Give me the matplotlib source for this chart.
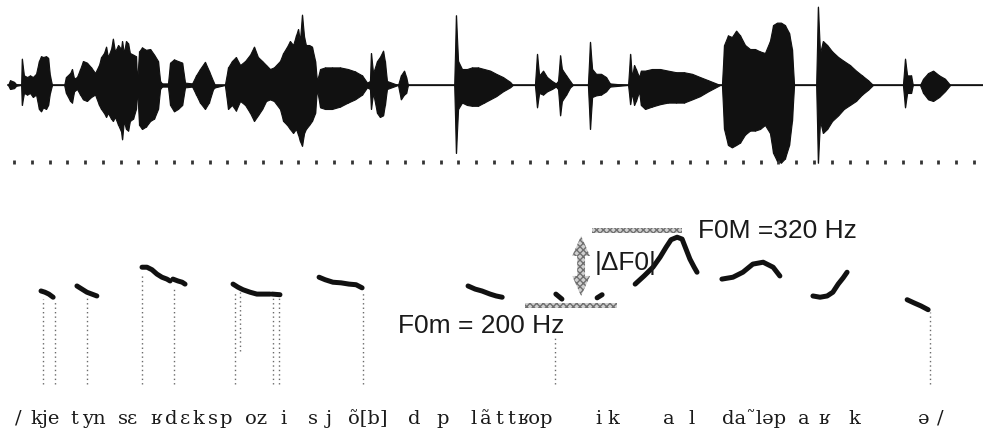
import numpy as np
import matplotlib.pyplot as plt
from matplotlib.patches import Rectangle, Polygon
from matplotlib.transforms import blended_transform_factory

# -------------------------------------------------
# waveform envelope: time (ms), upper / lower amplitude (normalised)
# -------------------------------------------------
wave_t = [-17, -11, 0, 6, 20, 22, 28, 37, 45, 53, 62, 70, 76, 82, 90, 96, 101, 107,
          141, 146, 158, 163, 169, 177, 186, 194, 205, 217, 228, 239,
          245, 253, 259, 264, 273, 278, 284, 293, 301, 304, 309, 315, 321, 326, 335, 343, 346,
          352, 360, 371, 383, 394, 405, 411, 416,
          433, 439, 450, 461, 473, 481,
          501, 512, 523, 537, 548, 560, 565,
          593, 602, 613, 624, 636, 650, 664, 675, 686, 698, 709, 720, 731, 748,
          757, 768, 776, 785, 793, 799, 804, 810, 816, 821, 830, 838, 847, 852,
          861, 875, 894, 917, 939, 959, 979, 993,
          1001, 1004, 1010, 1021, 1029, 1038, 1043, 1049,
          1080, 1088, 1097, 1103, 1108,
          1238, 1243, 1249, 1260, 1274, 1288, 1305, 1322, 1339, 1356, 1375, 1395, 1403,
          1465, 1471, 1477, 1488, 1499, 1513, 1524, 1530, 1536, 1541, 1553, 1564, 1572,
          1614, 1620, 1626, 1637, 1651, 1665, 1676,
          1727, 1733, 1738, 1744, 1749, 1758, 1763, 1775, 1794, 1817, 1839, 1862, 1884,
          1907, 1929, 1952, 1969, 1986,
          1991, 1997, 2008, 2019, 2031, 2042, 2056, 2070, 2084, 2098, 2112, 2126, 2135,
          2146, 2157, 2168, 2180, 2188, 2194,
          2256, 2261, 2267, 2275, 2287, 2301, 2318, 2334, 2351, 2368, 2385, 2402, 2416,
          2500, 2506, 2512, 2523, 2528,
          2548, 2557, 2571, 2585, 2602, 2618, 2633, 2725]
wave_hi = [0, 0.06, 0.04, 0.01, 0, 0.33, 0.12, 0.10, 0.12, 0.10, 0.14, 0.30, 0.36, 0.35, 0.36, 0.34, 0.12, 0,
           0, 0.10, 0.15, 0.20, 0.08, 0.10, 0.20, 0.30, 0.28, 0.22, 0.15, 0.25,
           0.35, 0.40, 0.48, 0.35, 0.45, 0.58, 0.42, 0.50, 0.45, 0.55, 0.40, 0.55, 0.52, 0.40, 0.38, 0.36, 0.05,
           0.42, 0.47, 0.44, 0.45, 0.38, 0.30, 0.05, 0.02,
           0.02, 0.28, 0.32, 0.30, 0.28, 0.03,
           0.02, 0.12, 0.20, 0.29, 0.18, 0.05, 0,
           0, 0.22, 0.30, 0.35, 0.25, 0.30, 0.38, 0.48, 0.35, 0.30, 0.25, 0.20, 0.22, 0.30,
           0.40, 0.48, 0.55, 0.50, 0.62, 0.70, 0.55, 0.88, 0.60, 0.50, 0.50, 0.48, 0.30, 0.05,
           0.20, 0.22, 0.22, 0.22, 0.20, 0.17, 0.12, 0.03,
           0.05, 0.40, 0.15, 0.30, 0.35, 0.43, 0.30, 0.05,
           0, 0.12, 0.18, 0.10, 0,
           0, 0.87, 0.30, 0.20, 0.20, 0.22, 0.22, 0.20, 0.18, 0.14, 0.10, 0.04, 0,
           0, 0.39, 0.12, 0.18, 0.10, 0.05, 0.02, 0.05, 0.37, 0.20, 0.12, 0.05, 0,
           0, 0.54, 0.20, 0.14, 0.14, 0.10, 0.02,
           0, 0.39, 0.10, 0.25, 0.20, 0.10, 0.18, 0.18, 0.20, 0.20, 0.18, 0.16, 0.16,
           0.14, 0.10, 0.06, 0.03, 0,
           0, 0.50, 0.62, 0.60, 0.68, 0.62, 0.50, 0.45, 0.45, 0.42, 0.40, 0.55, 0.75,
           0.78, 0.78, 0.75, 0.65, 0.45, 0,
           0, 0.98, 0.40, 0.55, 0.50, 0.42, 0.35, 0.30, 0.25, 0.18, 0.12, 0.06, 0,
           0, 0.33, 0.12, 0.12, 0,
           0, 0.08, 0.15, 0.18, 0.12, 0.08, 0, 0]
wave_lo = [0, -0.05, -0.04, -0.01, 0, -0.25, -0.10, -0.12, -0.10, -0.15, -0.12, -0.30, -0.33, -0.28, -0.30, -0.25, -0.10, 0,
           0, -0.10, -0.20, -0.22, -0.08, -0.05, -0.12, -0.18, -0.20, -0.15, -0.12, -0.25,
           -0.30, -0.35, -0.40, -0.35, -0.42, -0.45, -0.40, -0.50, -0.58, -0.68, -0.45, -0.55, -0.57, -0.45, -0.42, -0.30, -0.05,
           -0.50, -0.55, -0.52, -0.45, -0.42, -0.30, -0.05, -0.02,
           -0.02, -0.25, -0.33, -0.30, -0.25, -0.03,
           -0.02, -0.12, -0.22, -0.30, -0.22, -0.05, -0.03,
           0, -0.30, -0.25, -0.32, -0.20, -0.25, -0.35, -0.45, -0.38, -0.30, -0.20, -0.18, -0.20, -0.30,
           -0.45, -0.50, -0.55, -0.60, -0.55, -0.62, -0.70, -0.76, -0.60, -0.55, -0.50, -0.45, -0.35, -0.05,
           -0.28, -0.30, -0.30, -0.27, -0.22, -0.18, -0.12, -0.03,
           -0.05, -0.30, -0.10, -0.35, -0.40, -0.38, -0.25, -0.05,
           0, -0.18, -0.12, -0.10, 0,
           0, -0.85, -0.30, -0.22, -0.25, -0.26, -0.26, -0.22, -0.18, -0.14, -0.08, -0.03, 0,
           0, -0.28, -0.10, -0.12, -0.08, -0.05, -0.02, -0.05, -0.38, -0.20, -0.12, -0.03, 0,
           0, -0.55, -0.15, -0.13, -0.12, -0.08, -0.02,
           0, -0.24, -0.10, -0.25, -0.20, -0.08, -0.25, -0.30, -0.27, -0.24, -0.22, -0.22, -0.22,
           -0.18, -0.14, -0.08, -0.04, 0,
           0, -0.55, -0.75, -0.78, -0.75, -0.72, -0.62, -0.57, -0.57, -0.55, -0.50, -0.60, -0.85,
           -0.95, -0.97, -0.92, -0.75, -0.45, 0,
           0, -0.97, -0.45, -0.60, -0.55, -0.45, -0.38, -0.30, -0.25, -0.20, -0.12, -0.06, 0,
           0, -0.28, -0.10, -0.10, 0,
           0, -0.10, -0.18, -0.20, -0.15, -0.08, 0, 0]

tick_step = 50      # ms between time marks
t_end = 2700

# -------------------------------------------------
# F0 contours: (time ms, F0 Hz)
# -------------------------------------------------
f0_segments = [
    ([76, 87, 98, 110], [224, 222, 219, 214]),
    ([177, 191, 205, 219, 233], [232, 227, 222, 219, 216]),
    ([360, 374, 388, 402, 416, 430, 439], [262, 262, 258, 251, 246, 243, 240]),
    ([447, 461, 473, 481], [243, 240, 238, 235]),
    ([616, 630, 644, 664, 683, 703, 720], [235, 230, 226, 222, 219, 219, 219]),
    ([726, 748], [219, 218]),
    ([858, 875, 897, 920, 942, 962, 979], [246, 242, 238, 237, 235, 234, 229]),
    ([1277, 1297, 1316, 1339, 1356, 1373], [232, 227, 224, 219, 216, 214]),
    ([1524, 1541], [219, 211]),
    ([1640, 1654], [213, 218]),
    ([1747, 1772, 1797, 1817, 1834, 1848, 1865, 1879, 1890, 1901, 1913, 1921],
     [235, 248, 262, 278, 294, 306, 310, 307, 291, 275, 262, 254]),
    ([1991, 2022, 2050, 2078, 2107, 2135, 2154], [243, 246, 254, 267, 270, 262, 248]),
    ([2247, 2267, 2287, 2303, 2318, 2332, 2343], [216, 214, 216, 222, 235, 245, 254]),
    ([2512, 2531, 2551, 2571], [210, 205, 200, 194]),
]

# segmentation marks (dotted): time ms, top Hz, bottom Hz
mark_t = [82, 115, 205, 360, 450, 622, 636, 728, 745, 982, 1522, 2576]
mark_top = [211, 208, 214, 251, 230, 222, 222, 214, 214, 224, 152, 190]
mark_bottom = [75, 75, 75, 75, 75, 75, 128, 75, 75, 75, 75, 75]

# range annotation
f0_low, f0_high = 200, 320
low_band_t = (1437, 1696)
high_band_t = (1626, 1879)
delta_t = 1595

# phonetic transcription: label, start time (ms)
ipa_labels = ["/", "kje", "t", "yn", "sɛ", "ʁ", "d", "ɛ", "k", "s", "p", "oz", "i",
              "s", "j", "õ[b]", "d", "p", "l", "ã", "t", "t", "ʁop", "i", "k",
              "a", "l", "da\u02dcləp", "a", "ʁ", "k", "ə", "/"]
ipa_t = [3, 45, 158, 191, 293, 383, 425, 467, 503, 546, 579, 650, 748,
         827, 878, 939, 1108, 1187, 1283, 1311, 1353, 1387, 1415, 1634, 1668,
         1825, 1896, 1991, 2205, 2261, 2346, 2543, 2596]

# -------------------------------------------------
fig = plt.figure(figsize=(9.83, 4.35), dpi=100)
xlim = (-39.4, 2725.3)
ink = "#111111"

# --- waveform
ax_w = fig.add_axes([0, 0.6046, 1, 0.3954])
ax_w.fill_between(wave_t, wave_lo, wave_hi, color=ink, lw=0.8)
ax_w.vlines(wave_t, wave_lo, wave_hi, color=ink, lw=0.9)
ax_w.plot(wave_t, np.zeros(len(wave_t)), color=ink, lw=1.2)
ax_w.set_xlim(*xlim)
ax_w.set_ylim(-1.075, 1.075)
ax_w.set_xticks(np.arange(0, t_end + 1, tick_step))
ax_w.set_yticks([])
ax_w.spines["bottom"].set_position(("data", -0.9625))
for s in ax_w.spines.values():
    s.set_visible(False)
ax_w.tick_params(axis="x", direction="inout", length=3.5, width=2.0,
                 color="#333333", labelbottom=False)

# --- F0 panel
ax_f = fig.add_axes([0, 0.0920, 1, 0.4943])
ax_f.set_xlim(*xlim)
ax_f.set_ylim(59.2, 403.2)
ax_f.axis("off")

ax_f.vlines(mark_t, mark_bottom, mark_top, colors="#6a6a6a",
            linestyles=(0, (1, 2.2)), lw=1.0)

for t, f in f0_segments:
    ax_f.plot(t, f, color=ink, lw=3.6, solid_capstyle="round", solid_joinstyle="round")

band_h = 8
for (t0, t1), f in [(low_band_t, f0_low), (high_band_t, f0_high)]:
    ax_f.add_patch(Rectangle((t0, f - band_h / 2), t1 - t0, band_h,
                             facecolor="#d0d0d0", edgecolor="#707070",
                             hatch="xxxxx", lw=0, zorder=1))

# double-headed |dF0| arrow between the two levels
top, bot = f0_high - 8, f0_low + 16
hw, sw, hl = 25, 11, 32
arrow_xy = [(delta_t, top), (delta_t + hw, top - hl), (delta_t + sw, top - hl),
            (delta_t + sw, bot + hl), (delta_t + hw, bot + hl), (delta_t, bot),
            (delta_t - hw, bot + hl), (delta_t - sw, bot + hl), (delta_t - sw, top - hl),
            (delta_t - hw, top - hl)]
ax_f.add_patch(Polygon(arrow_xy, closed=True, facecolor="#d0d0d0", edgecolor="#707070",
                       hatch="xxxxx", lw=0, zorder=1))

lab = dict(family=["Liberation Sans", "DejaVu Sans"], fontsize=19, color="#1a1a1a",
           va="baseline", ha="left")
ax_f.text(1080, 158, f"F0m = {f0_low} Hz", **lab)
ax_f.text(1924, 310, f"F0M ={f0_high} Hz", **lab)
ax_f.text(1634, 259, "|ΔF0|", **lab)

# --- transcription
tr = blended_transform_factory(ax_f.transData, fig.transFigure)
for s, t in zip(ipa_labels, ipa_t):
    ax_f.text(t, 0.0253, s, transform=tr, family=["DejaVu Serif"], fontsize=14,
              color="#1a1a1a", va="baseline", ha="left", clip_on=False)

fig.savefig("out.png", dpi=100)
